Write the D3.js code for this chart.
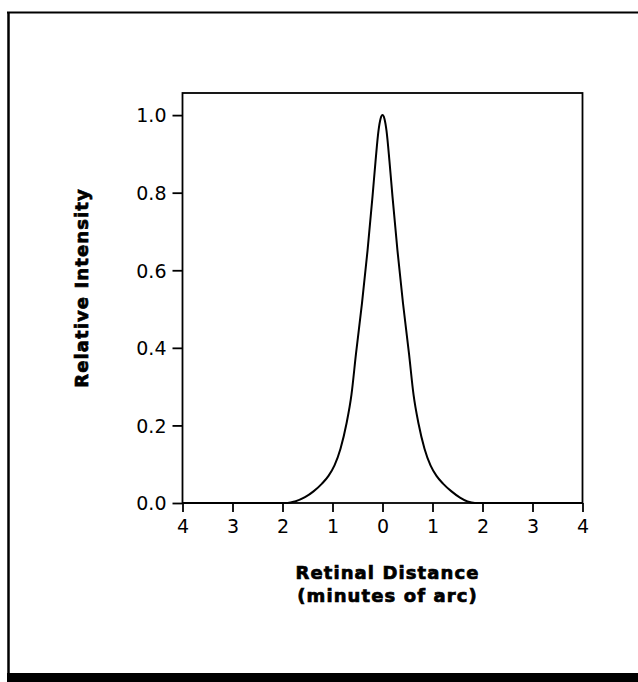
<!DOCTYPE html>
<html>
<head>
<meta charset="utf-8">
<script src="https://cdn.jsdelivr.net/npm/d3@7"></script>
<style>
  body { margin: 0; background: #fff; }
  svg { display: block; }
  .tick text { font-family: "DejaVu Sans", sans-serif; font-size: 19px; fill: #000; }
  .title { font-family: "DejaVu Sans", sans-serif; font-weight: bold; font-size: 18px; letter-spacing: 1.1px; fill: #000; stroke: #000; stroke-width: 0.7px; }
</style>
</head>
<body>
<script>
// retinal distance (minutes of arc) and relative intensity
const distance = [-4, -1.9, -1.75, -1.55, -1.38, -1.21, -1.08, -0.96, -0.84, -0.72, -0.62, -0.53, -0.41, -0.3, -0.2, -0.14, -0.08, -0.04, 0,
  0.04, 0.08, 0.14, 0.2, 0.3, 0.41, 0.53, 0.62, 0.72, 0.84, 0.96, 1.08, 1.21, 1.38, 1.55, 1.7, 1.85, 4];
const intensity = [0, 0, 0.004, 0.015, 0.03, 0.05, 0.07, 0.097, 0.14, 0.205, 0.28, 0.385, 0.515, 0.65, 0.79, 0.88, 0.96, 0.99, 1.0,
  0.99, 0.96, 0.88, 0.79, 0.65, 0.515, 0.385, 0.28, 0.205, 0.14, 0.097, 0.07, 0.05, 0.03, 0.014, 0.004, 0, 0];
const xTicks = [-4, -3, -2, -1, 0, 1, 2, 3, 4];
const yTicks = [0, 0.2, 0.4, 0.6, 0.8, 1.0];

const width = 638, height = 682;
const svg = d3.select('body').append('svg').attr('width', width).attr('height', height);

// outer frame of the figure
svg.append('line').attr('x1', 8.5).attr('x2', 8.5).attr('y1', 12).attr('y2', 674)
  .style('stroke', '#000').style('stroke-width', 2.5);
svg.append('line').attr('x1', 7).attr('x2', width).attr('y1', 12.5).attr('y2', 12.5)
  .style('stroke', '#000').style('stroke-width', 2);
svg.append('rect').attr('x', 7).attr('y', 673).attr('width', width - 7).attr('height', 9).style('fill', '#000');

const margins = { left: 182.5, top: 93, right: 55.5, bottom: 179 };
const chartWidth = width - margins.left - margins.right;
const chartHeight = height - margins.top - margins.bottom;
const chart = svg.append('g').attr('transform', `translate(${margins.left},${margins.top})`);

const xScale = d3.scaleLinear().domain([-4, 4]).range([0, chartWidth]);
const yScale = d3.scaleLinear().domain([0, 1.057]).range([chartHeight, 0]);

const bottomAxis = d3.axisBottom(xScale).tickValues(xTicks).tickSize(9).tickPadding(8)
  .tickFormat(d => Math.abs(d));
const leftAxis = d3.axisLeft(yScale).tickValues(yTicks).tickSize(10).tickPadding(6)
  .tickFormat(d3.format('.1f'));

const gx = chart.append('g').attr('transform', `translate(0,${chartHeight})`).call(bottomAxis);
const gy = chart.append('g').call(leftAxis);
[gx, gy].forEach(g => {
  g.select('.domain').remove();
  g.selectAll('.tick line').style('stroke', '#000').style('stroke-width', 1.8);
});
gy.selectAll('.tick text').attr('dy', '0.36em');

// plot box
chart.append('rect').attr('x', 0).attr('y', 0).attr('width', chartWidth).attr('height', chartHeight)
  .style('fill', 'none').style('stroke', '#000').style('stroke-width', 1.8);

const line = d3.line()
  .x((d, i) => xScale(distance[i]))
  .y(d => yScale(d))
  .curve(d3.curveMonotoneX);
chart.append('path').attr('d', line(intensity))
  .style('fill', 'none').style('stroke', '#000').style('stroke-width', 2);

// axis titles
svg.append('text').attr('class', 'title').attr('text-anchor', 'middle')
  .attr('x', 387.5).attr('y', 579).text('Retinal Distance');
svg.append('text').attr('class', 'title').attr('text-anchor', 'middle')
  .attr('x', 387.5).attr('y', 602).text('(minutes of arc)');
svg.append('text').attr('class', 'title').attr('text-anchor', 'middle')
  .attr('transform', 'translate(88,288) rotate(-90)').text('Relative Intensity');
</script>
</body>
</html>
